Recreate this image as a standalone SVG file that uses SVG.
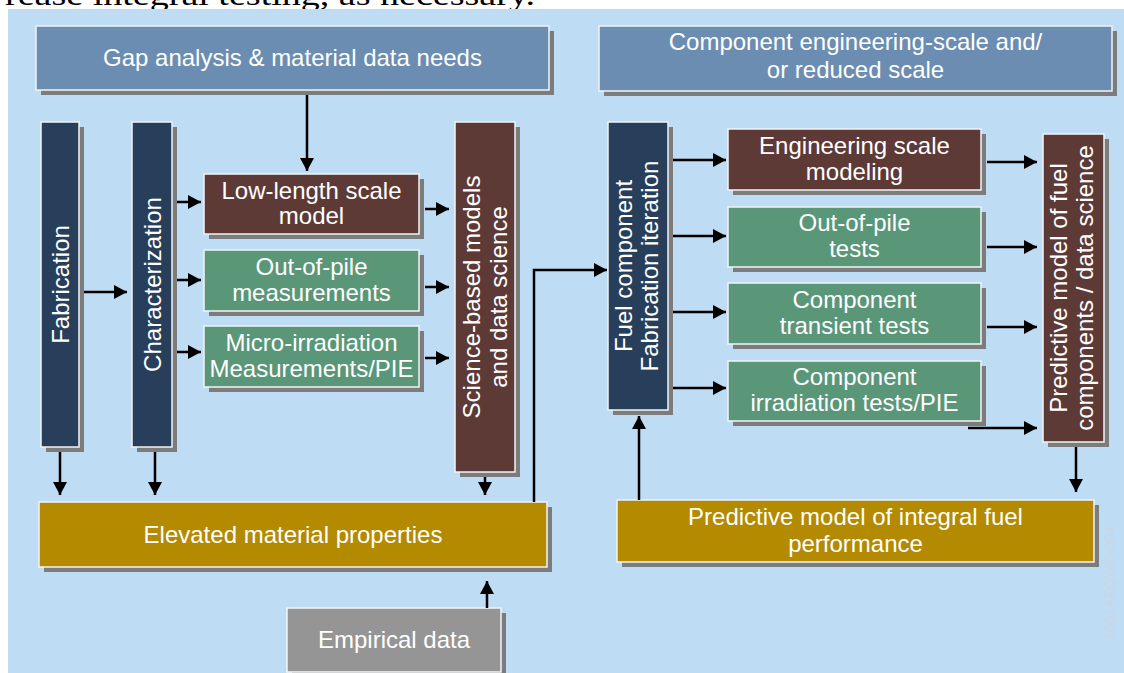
<svg xmlns="http://www.w3.org/2000/svg" width="1124" height="673" viewBox="0 0 1124 673">
  <style>
    .shadow { fill: #7c7c7c; }
    .box { stroke: #f2f4f6; stroke-width: 1.5; }
    .hdr { fill: #6b8db1; }
    .navy { fill: #273f5a; }
    .maroon { fill: #5e3a37; }
    .green { fill: #5a9678; }
    .gold { fill: #b38a00; }
    .gray { fill: #959595; }
    .lbl { font-family: "Liberation Sans", Arial, sans-serif; font-size: 24px; fill: #ffffff; text-anchor: middle; }
    .conn path { fill: none; stroke: #000000; stroke-width: 2.5; }
  </style>
  <defs>
    <marker id="arrow" markerUnits="userSpaceOnUse" markerWidth="14" markerHeight="14" refX="13" refY="7" orient="auto">
      <path d="M0,0 L13,7 L0,14 z" fill="#000000"/>
    </marker>
  </defs>

  <!-- caption line above the panel, cut off by the page edge -->
  <text x="5" y="5" font-family="Liberation Serif, 'Times New Roman', serif" font-size="30" fill="#000000" textLength="530" lengthAdjust="spacingAndGlyphs">rease integral testing, as necessary.</text>

  <!-- background panel -->
  <rect x="8" y="9" width="1116" height="664" fill="#bedcf4"/>

  <!-- watermark id -->
  <text transform="translate(1114.5,583) rotate(-90)" font-family="Liberation Sans, Arial, sans-serif" font-size="14.5" fill="#c9d7e5" text-anchor="middle">2001AFQWP-004</text>

  <!-- left section -->
  <g id="gap-analysis">
    <rect class="shadow" x="41" y="31" width="513" height="64"/>
    <rect class="box hdr" x="36" y="26" width="513" height="64"/>
    <text class="lbl" x="292.5" y="66">Gap analysis &amp; material data needs</text>
  </g>

  <g id="fabrication">
    <rect class="shadow" x="46" y="127" width="38" height="325"/>
    <rect class="box navy" x="41" y="122" width="38" height="325"/>
    <text class="lbl" transform="translate(68.5,284.5) rotate(-90)">Fabrication</text>
  </g>

  <g id="characterization">
    <rect class="shadow" x="137" y="127" width="40" height="325"/>
    <rect class="box navy" x="132" y="122" width="40" height="325"/>
    <text class="lbl" transform="translate(160.5,284.5) rotate(-90)">Characterization</text>
  </g>

  <g id="low-length-model">
    <rect class="shadow" x="209" y="179" width="215" height="60"/>
    <rect class="box maroon" x="204" y="174" width="215" height="60"/>
    <text class="lbl" x="311.5" y="198.5">Low-length scale</text>
    <text class="lbl" x="311.5" y="224">model</text>
  </g>

  <g id="out-of-pile-measurements">
    <rect class="shadow" x="209" y="255" width="215" height="61"/>
    <rect class="box green" x="204" y="250" width="215" height="61"/>
    <text class="lbl" x="311.5" y="274.5">Out-of-pile</text>
    <text class="lbl" x="311.5" y="300.5">measurements</text>
  </g>

  <g id="micro-irradiation">
    <rect class="shadow" x="209" y="331" width="215" height="61"/>
    <rect class="box green" x="204" y="326" width="215" height="61"/>
    <text class="lbl" x="311.5" y="350.5">Micro-irradiation</text>
    <text class="lbl" x="311.5" y="376.5">Measurements/PIE</text>
  </g>

  <g id="science-models">
    <rect class="shadow" x="460" y="127" width="60" height="350"/>
    <rect class="box maroon" x="455" y="122" width="60" height="350"/>
    <text class="lbl" transform="translate(480,297) rotate(-90)">Science-based models</text>
    <text class="lbl" transform="translate(507,297) rotate(-90)">and data science</text>
  </g>

  <g id="elevated-properties">
    <rect class="shadow" x="44" y="507" width="508" height="65"/>
    <rect class="box gold" x="39" y="502" width="508" height="65"/>
    <text class="lbl" x="293" y="543">Elevated material properties</text>
  </g>

  <g id="empirical-data">
    <rect class="shadow" x="292" y="613" width="214" height="64"/>
    <rect class="box gray" x="287" y="608" width="214" height="64"/>
    <text class="lbl" x="394" y="648">Empirical data</text>
  </g>

  <!-- right section -->
  <g id="component-scale">
    <rect class="shadow" x="604" y="31" width="513" height="65"/>
    <rect class="box hdr" x="599" y="26" width="513" height="65"/>
    <text class="lbl" x="855.5" y="50">Component engineering-scale and/</text>
    <text class="lbl" x="855.5" y="78">or reduced scale</text>
  </g>

  <g id="fuel-component">
    <rect class="shadow" x="613" y="127" width="60" height="288"/>
    <rect class="box navy" x="608" y="122" width="60" height="288"/>
    <text class="lbl" transform="translate(631.5,266) rotate(-90)">Fuel component</text>
    <text class="lbl" transform="translate(658,266) rotate(-90)">Fabrication iteration</text>
  </g>

  <g id="engineering-modeling">
    <rect class="shadow" x="733" y="134" width="253" height="61"/>
    <rect class="box maroon" x="728" y="129" width="253" height="61"/>
    <text class="lbl" x="854.5" y="154">Engineering scale</text>
    <text class="lbl" x="854.5" y="180">modeling</text>
  </g>

  <g id="out-of-pile-tests">
    <rect class="shadow" x="733" y="212" width="253" height="60"/>
    <rect class="box green" x="728" y="207" width="253" height="60"/>
    <text class="lbl" x="854.5" y="231">Out-of-pile</text>
    <text class="lbl" x="854.5" y="257">tests</text>
  </g>

  <g id="transient-tests">
    <rect class="shadow" x="733" y="288" width="253" height="61"/>
    <rect class="box green" x="728" y="283" width="253" height="61"/>
    <text class="lbl" x="854.5" y="308">Component</text>
    <text class="lbl" x="854.5" y="334">transient tests</text>
  </g>

  <g id="irradiation-tests">
    <rect class="shadow" x="733" y="366" width="253" height="60"/>
    <rect class="box green" x="728" y="361" width="253" height="60"/>
    <text class="lbl" x="854.5" y="385">Component</text>
    <text class="lbl" x="854.5" y="411">irradiation tests/PIE</text>
  </g>

  <g id="predictive-components">
    <rect class="shadow" x="1048" y="139" width="61" height="308"/>
    <rect class="box maroon" x="1043" y="134" width="61" height="308"/>
    <text class="lbl" transform="translate(1067,288) rotate(-90)">Predictive model of fuel</text>
    <text class="lbl" transform="translate(1093,288) rotate(-90)">components / data science</text>
  </g>

  <g id="integral-performance">
    <rect class="shadow" x="622" y="505" width="477" height="62"/>
    <rect class="box gold" x="617" y="500" width="477" height="62"/>
    <text class="lbl" x="855.5" y="524.5">Predictive model of integral fuel</text>
    <text class="lbl" x="855.5" y="552">performance</text>
  </g>

  <!-- connectors -->
  <g id="connectors" class="conn">
    <path d="M307,95 V171" marker-end="url(#arrow)"/>
    <path d="M84,292 H127" marker-end="url(#arrow)"/>
    <path d="M177,202 H201" marker-end="url(#arrow)"/>
    <path d="M177,280 H201" marker-end="url(#arrow)"/>
    <path d="M177,352 H201" marker-end="url(#arrow)"/>
    <path d="M425,209 H449" marker-end="url(#arrow)"/>
    <path d="M425,287 H449" marker-end="url(#arrow)"/>
    <path d="M425,358 H449" marker-end="url(#arrow)"/>
    <path d="M60,452 V495" marker-end="url(#arrow)"/>
    <path d="M155,452 V495" marker-end="url(#arrow)"/>
    <path d="M485,477 V495" marker-end="url(#arrow)"/>
    <path d="M534,502 V270 H607" marker-end="url(#arrow)"/>
    <path d="M487,608 V581" marker-end="url(#arrow)"/>
    <path d="M673,160 H726" marker-end="url(#arrow)"/>
    <path d="M673,236 H726" marker-end="url(#arrow)"/>
    <path d="M673,312 H726" marker-end="url(#arrow)"/>
    <path d="M673,388 H726" marker-end="url(#arrow)"/>
    <path d="M987,162 H1037" marker-end="url(#arrow)"/>
    <path d="M987,247 H1037" marker-end="url(#arrow)"/>
    <path d="M987,327 H1037" marker-end="url(#arrow)"/>
    <path d="M968,428 H1037" marker-end="url(#arrow)"/>
    <path d="M1076,447 V492" marker-end="url(#arrow)"/>
    <path d="M639,500 V416" marker-end="url(#arrow)"/>
  </g>
</svg>
